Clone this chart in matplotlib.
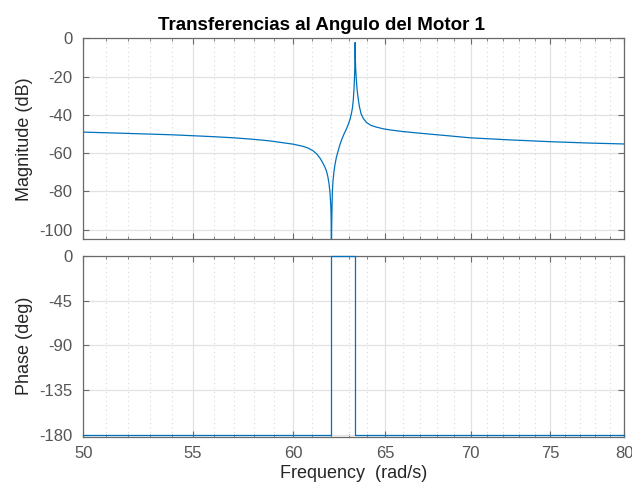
import numpy as np
import matplotlib.pyplot as plt
from matplotlib.ticker import FixedLocator, MultipleLocator, NullFormatter, FormatStrFormatter

plt.rcParams['font.family'] = ['Liberation Sans', 'DejaVu Sans']
plt.rcParams['axes.unicode_minus'] = False

# magnitude (rad/s, dB)
freq_mag = [50.0, 52.0, 54.0, 55.0, 56.0, 57.0, 58.0, 58.8, 59.5, 60.0, 60.5, 60.8,
            61.05, 61.25, 61.43, 61.57, 61.67, 61.76, 61.84, 61.9, 61.95, 61.98,
            62.0, 62.015, 62.03, 62.04, 62.06, 62.08, 62.11, 62.16, 62.22, 62.3,
            62.4, 62.48, 62.57, 62.7, 62.82, 62.93, 63.05, 63.12, 63.17, 63.22,
            63.26, 63.29, 63.31, 63.32, 63.33, 63.35, 63.38, 63.42, 63.48, 63.55,
            63.65, 63.78, 63.95, 64.2, 64.5, 64.9, 65.3, 66.0, 67.0, 68.0, 69.0,
            70.0, 72.5, 75.0, 77.5, 80.0]
mag_db = [-49.0, -49.7, -50.4, -50.9, -51.4, -52.0, -52.8, -53.6, -54.6, -55.3, -56.4, -57.4,
          -58.8, -60.5, -62.8, -65.2, -67.1, -69.3, -72.5, -76.0, -80.5, -85.0,
          -89.0, -95.0, -140.0, -100.0, -88.0, -80.0, -75.0, -70.0, -66.0, -62.0,
          -58.5, -55.8, -53.3, -50.2, -47.8, -45.3, -42.0, -39.0, -36.5, -32.0,
          -26.0, -19.0, -12.0, -2.2, -10.0, -16.0, -21.0, -26.0, -31.0, -35.5,
          -39.5, -42.0, -44.0, -45.5, -46.4, -47.3, -47.9, -48.7, -49.6, -50.4, -51.2,
          -52.0, -53.1, -54.0, -54.7, -55.2]

# phase (rad/s, deg)
freq_ph = [50.0, 62.03, 62.03, 63.32, 63.32, 80.0]
phase_deg = [-180, -180, 0, 0, -180, -180]

xticks = [50, 55, 60, 65, 70, 75, 80]
mag_ticks = [0, -20, -40, -60, -80, -100]
ph_ticks = [0, -45, -90, -135, -180]

line_c = '#0072BD'
ax_c = '#6a6a6a'
lab_c = '#555555'

fig = plt.figure(figsize=(6.32, 4.86), dpi=100)
ax1 = fig.add_axes([0.1318, 0.5076, 0.8560, 0.4136])
ax2 = fig.add_axes([0.1318, 0.1015, 0.8560, 0.3724])

ax1.plot(freq_mag, mag_db, color=line_c, lw=0.9)
ax2.plot(freq_ph, phase_deg, color=line_c, lw=0.9, clip_on=False, zorder=5)

for ax in (ax1, ax2):
    ax.set_xscale('log')
    ax.set_xlim(50, 80)
    ax.xaxis.set_major_locator(FixedLocator(xticks))
    ax.xaxis.set_minor_locator(MultipleLocator(1))
    ax.xaxis.set_minor_formatter(NullFormatter())
    ax.xaxis.set_major_formatter(FormatStrFormatter('%d'))
    ax.grid(True, which='major', color='#e2e2e2', lw=0.9, ls='-')
    ax.grid(True, which='minor', axis='x', color='#d8d8d8', lw=0.8, ls=(0, (1, 3)))
    ax.set_axisbelow(True)
    ax.tick_params(which='both', direction='in', top=True, right=True, color=ax_c,
                   labelsize=12, labelcolor=lab_c)
    ax.tick_params(which='major', length=4.5, width=0.8)
    ax.tick_params(which='minor', length=2.5, width=0.6)
    ax.tick_params(axis='y', which='major', pad=8)
    ax.tick_params(axis='x', which='major', pad=6.5)
    for s in ax.spines.values():
        s.set_color(ax_c)
        s.set_linewidth(0.9)

ax1.set_ylim(-105, 0)
ax1.set_yticks(mag_ticks)
ax1.tick_params(labelbottom=False)
ax1.set_ylabel('Magnitude (dB)', fontsize=13, color='#262626', labelpad=4)
# title sits centred on the figure, not on the axes
ax1.set_title('Transferencias al Angulo del Motor 1', fontsize=13.5, fontweight='bold',
              pad=6, x=0.44)

ax2.set_ylim(-181.7, 0)
ax2.set_yticks(ph_ticks)
ax2.set_ylabel('Phase (deg)', fontsize=13, color='#262626', labelpad=4)
ax2.set_xlabel('Frequency  (rad/s)', fontsize=13, color='#262626', labelpad=3)

fig.savefig('out.png', dpi=100)
